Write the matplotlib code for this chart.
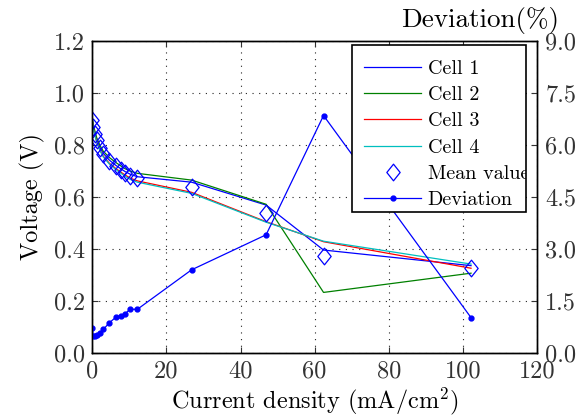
import matplotlib
matplotlib.use("Agg")
import matplotlib.pyplot as plt
from matplotlib.path import Path
from matplotlib.patches import Rectangle

plt.rcParams['font.family'] = ['cmr10', 'DejaVu Serif']
plt.rcParams['mathtext.fontset'] = 'cm'
plt.rcParams['axes.formatter.use_mathtext'] = True

# ---- data ----
current = [0, 0.25, 0.73, 1.19, 2.08, 2.97, 4.59, 6.32, 7.75, 8.83, 10.18, 12.15, 26.8, 46.9, 62.4, 102.2]
cell1 = [0.900, 0.872, 0.845, 0.820, 0.790, 0.768, 0.742, 0.722, 0.708, 0.698, 0.688, 0.678, 0.657, 0.569, 0.396, 0.336]
cell2 = [0.905, 0.878, 0.852, 0.828, 0.798, 0.776, 0.752, 0.733, 0.719, 0.709, 0.700, 0.691, 0.665, 0.572, 0.233, 0.307]
cell3 = [0.895, 0.865, 0.838, 0.812, 0.780, 0.757, 0.730, 0.710, 0.695, 0.685, 0.673, 0.662, 0.618, 0.505, 0.428, 0.326]
cell4 = [0.893, 0.863, 0.835, 0.810, 0.778, 0.754, 0.727, 0.706, 0.691, 0.680, 0.668, 0.657, 0.614, 0.503, 0.430, 0.342]
mean_value = [0.898, 0.870, 0.843, 0.818, 0.787, 0.764, 0.738, 0.718, 0.703, 0.693, 0.682, 0.672, 0.639, 0.537, 0.372, 0.328]
deviation = [0.71, 0.49, 0.49, 0.51, 0.59, 0.68, 0.87, 1.03, 1.08, 1.13, 1.26, 1.26, 2.40, 3.41, 6.85, 1.02]

x_ticks = [0, 20, 40, 60, 80, 100, 120]
y_ticks = [0.0, 0.2, 0.4, 0.6, 0.8, 1.0, 1.2]
y2_ticks = [0.0, 1.5, 3.0, 4.5, 6.0, 7.5, 9.0]

W, H = 585, 417
fig = plt.figure(figsize=(W / 100, H / 100), dpi=100)
fig.subplots_adjust(left=92.3 / W, right=537 / W, bottom=1 - 353 / H, top=1 - 41 / H)
ax = fig.add_subplot(111)

diamond = Path([(0, 1), (0.8, 0), (0, -1), (-0.8, 0), (0, 1)],
               [Path.MOVETO, Path.LINETO, Path.LINETO, Path.LINETO, Path.CLOSEPOLY])

lw = 0.9
h1, = ax.plot(current, cell1, color='#0000ff', lw=lw, label='Cell 1')
h2, = ax.plot(current, cell2, color='#008000', lw=lw, label='Cell 2')
h3, = ax.plot(current, cell3, color='#ff0000', lw=lw, label='Cell 3')
h4, = ax.plot(current, cell4, color='#00bfbf', lw=lw, label='Cell 4')
hm, = ax.plot(current, mean_value, ls='none', marker=diamond, markersize=12,
              markerfacecolor='none', markeredgecolor='#0000ff', markeredgewidth=0.9,
              label='Mean value')

ax.set_xlim(0, 120)
ax.set_ylim(0, 1.2)
ax.set_xticks(x_ticks)
ax.set_yticks(y_ticks)
ax.set_yticklabels(['%.1f' % v for v in y_ticks])
ax.set_xticklabels([str(v) for v in x_ticks])
ax.grid(True, color='#222222', linestyle=(0, (1, 5)), linewidth=0.8)
ax.tick_params(direction='in', length=4, labelsize=17.5, top=True, right=False,
               colors='#333333', labelcolor='#333333')
ax.tick_params(axis='x', pad=5)
ax.tick_params(axis='y', pad=5)
ax.set_xlabel('Current density (mA/cm$^2$)', fontsize=17.5, labelpad=2.5)
ax.set_ylabel('Voltage (V)', fontsize=17.5, labelpad=7)

ax2 = ax.twinx()
hd, = ax2.plot(current, deviation, color='#0000ff', lw=lw, marker='.', markersize=7,
               label='Deviation')
ax2.set_ylim(0, 9)
ax2.set_yticks(y2_ticks)
ax2.set_yticklabels(['%.1f' % v for v in y2_ticks])
ax2.tick_params(direction='in', length=4, labelsize=17.5, pad=6,
                colors='#333333', labelcolor='#333333')
fig.text(480 / W, 1 - 20 / H, 'Deviation(%)', fontsize=19.5, ha='center', va='center')

for a in (ax, ax2):
    for s in a.spines.values():
        s.set_linewidth(1.0)
        s.set_color('black')

# legend frame (drawn separately so the text can run up to its edge as in the reference)
frame = Rectangle((352 / W, 1 - 212 / H), 174 / W, 167 / H, transform=fig.transFigure,
                  facecolor='white', edgecolor='black', linewidth=1.2, zorder=4)
ax2.add_artist(frame)

leg = ax2.legend(handles=[h1, h2, h3, h4, hm, hd], loc='upper left',
                 bbox_to_anchor=(354 / W, 1 - 50 / H), bbox_transform=fig.transFigure,
                 borderaxespad=0, fontsize=14.5, frameon=False,
                 handlelength=2.85, handletextpad=0.3, labelspacing=0.4,
                 borderpad=0.5, numpoints=1)
leg.set_zorder(5)
for t in leg.get_texts():
    t.set_clip_path(frame)

fig.savefig('out.png', dpi=100)
